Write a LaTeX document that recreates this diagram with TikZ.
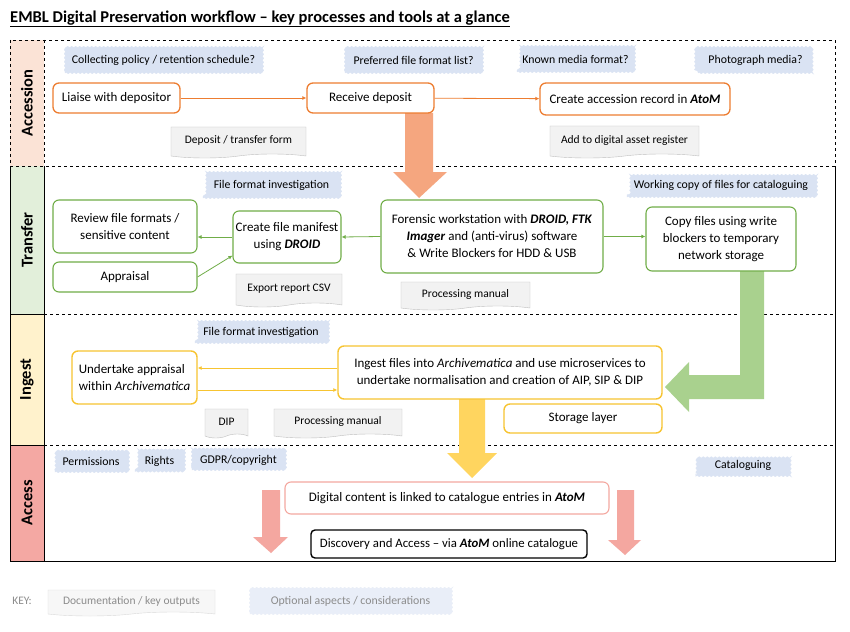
\documentclass[tikz,border=0pt]{standalone}
\usepackage{fontspec}
\setmainfont{Carlito}
\usetikzlibrary{positioning,shapes.symbols,decorations.pathmorphing,calc,arrows.meta}
\definecolor{accline}{HTML}{ED7D31}
\definecolor{trline}{HTML}{70AD47}
\definecolor{ingline}{HTML}{F7C431}
\definecolor{acline}{HTML}{F4A8A0}
\definecolor{optblue}{HTML}{DAE3F3}
\definecolor{docfill}{HTML}{F2F2F2}
\definecolor{docline}{HTML}{BFBFBF}
\definecolor{accfill}{HTML}{FBE3D6}
\definecolor{trfill}{HTML}{E2EFDA}
\definecolor{ingfill}{HTML}{FFF2CC}
\definecolor{acfill}{HTML}{F4A8A3}
\definecolor{arrorange}{HTML}{F5A67F}
\definecolor{arrgreen}{HTML}{A9D18E}
\definecolor{arryellow}{HTML}{FFD55F}
\definecolor{arrsalmon}{HTML}{F4A7A0}
\definecolor{keygrey}{HTML}{8C8C8C}

\begin{document}
\begin{tikzpicture}[x=1pt,y=-1pt]
        \tikzstyle{proc} = [draw,rounded corners=6pt,fill=white,line width=1.3pt,align=center,inner sep=2pt,font=\fontsize{13}{17}\selectfont]
        \tikzstyle{opt} = [fill=optblue,draw=optblue,decorate,decoration={snake,amplitude=0.7pt,segment length=4pt},inner sep=2pt,font=\fontsize{11.8}{14}\selectfont]
        \tikzstyle{doc} = [tape,tape bend top=none,tape bend height=4pt,draw=docline,fill=docfill,inner sep=2pt,font=\fontsize{11.5}{14}\selectfont]
        \tikzstyle{flow} = [-{Latex[length=4pt,width=4pt]},line width=0.8pt]
        \tikzstyle{lane} = [rotate=90,font=\bfseries\fontsize{16.5}{18}\selectfont]
        \useasboundingbox[fill=white] (0,0) rectangle (850,631);
        \node [anchor=west,font=\bfseries\fontsize{16.5}{18}\selectfont,inner sep=0pt] (title) at (10,19)
          {\underline{EMBL Digital Preservation workflow -- key processes and tools at a glance}};
        % lanes
        \fill[accfill] (10,40) rectangle (44,166);
        \fill[trfill] (10,166) rectangle (44,314);
        \fill[ingfill] (10,314) rectangle (44,445);
        \fill[acfill] (10,445) rectangle (44,561);
        \draw[dashed] (10,40) rectangle (835,166);
        \draw[dashed] (44,40) -- (44,166);
        \draw (10,166) -- (10,561) -- (835,561) -- (835,166);
        \draw (44,166) -- (44,561);
        \draw (10,314) -- (44,314);
        \draw (10,445) -- (44,445);
        \draw[dashed] (44,314) -- (835,314);
        \draw[dashed] (44,445) -- (835,445);
        \node [lane] (accession) at (27,103) {Accession};
        \node [lane] (transfer) at (27,240) {Transfer};
        \node [lane] (ingest) at (27,379.5) {Ingest};
        \node [lane] (access) at (27,503) {Access};
        % block arrows
        \fill[arrorange] (405,113) -- (433,113) -- (433,172) -- (447,172) -- (419,198) -- (393,172) -- (405,172) -- cycle;
        \fill[arrgreen] (740,271) -- (764,271) -- (764,399) -- (689,399) -- (689,412) -- (665,387) -- (689,362) -- (689,375) -- (740,375) -- cycle;
        \fill[arryellow] (459,399) -- (485,399) -- (485,453) -- (497,453) -- (472,478) -- (447,453) -- (459,453) -- cycle;
        \fill[arrsalmon] (262,490) -- (280,490) -- (280,537) -- (288,537) -- (271,553) -- (253,537) -- (262,537) -- cycle;
        \fill[arrsalmon] (617,490) -- (634,490) -- (634,540) -- (641,540) -- (625,555) -- (608,540) -- (617,540) -- cycle;
        % accession
        \node [opt, minimum width=197, minimum height=26] (policy) at (163.5,60) {Collecting policy / retention schedule?};
        \node [opt, minimum width=137, minimum height=26] (preferred) at (413.5,60) {Preferred file format list?};
        \node [opt, minimum width=117, minimum height=25] (knownmedia) at (575.5,59.5) {Known media format?};
        \node [opt, minimum width=115, minimum height=26] (photomedia) at (755.5,60) {Photograph media?};
        \node [proc, draw=accline, minimum width=127, minimum height=30] (liaise) at (116.5,98) {Liaise with depositor};
        \node [proc, draw=accline, minimum width=127, minimum height=30] (receive) at (370.5,98) {Receive deposit};
        \node [proc, draw=accline, minimum width=190, minimum height=32] (accrecord) at (635,99) {Create accession record in \textbf{\textit{AtoM}}};
        \node [doc, minimum width=135, minimum height=31] (depform) at (238.5,140.5) {Deposit / transfer form};
        \node [doc, minimum width=149, minimum height=32] (register) at (624.5,140) {Add to digital asset register};
        \draw[flow, accline] (liaise) -- (receive);
        \draw[flow, accline] (receive) -- (accrecord);
        % transfer
        \node [opt, minimum width=137, minimum height=25] (ffi) at (271.5,185.5) {File format investigation};
        \node [opt, minimum width=188, minimum height=23] (workcopy) at (721,185.5) {Working copy of files for cataloguing};
        \node [proc, draw=trline, line width=1.1pt, minimum width=144, minimum height=53] (review) at (125,226.5) {Review file formats /\\sensitive content};
        \node [proc, draw=trline, line width=1.1pt, minimum width=144, minimum height=30] (appraisal) at (125,277) {Appraisal};
        \node [proc, draw=trline, line width=1.1pt, minimum width=108, minimum height=52] (manifest) at (287,237) {Create file manifest\\using \textbf{\textit{DROID}}};
        \node [proc, draw=trline, line width=1.1pt, minimum width=222, minimum height=73] (forensic) at (492,236.5)
          {Forensic workstation with \textbf{\textit{DROID, FTK}}\\\textbf{\textit{Imager}} and (anti-virus) software\\\& Write Blockers for HDD \& USB};
        \node [proc, draw=trline, line width=1.1pt, minimum width=150, minimum height=64] (copyfiles) at (721,239) {Copy files using write\\blockers to temporary\\network storage};
        \node [doc, minimum width=106, minimum height=33] (csv) at (289,288.5) {Export report CSV};
        \node [doc, minimum width=129, minimum height=28] (manual) at (465.5,294) {Processing manual};
        \draw[flow, trline] (forensic.west) -- (manifest.east);
        \draw[flow, trline] (manifest.west) -- (manifest.west -| review.east);
        \draw[flow, trline] (appraisal.east) -- ($(manifest.south west)!0.15!(manifest.north west)$);
        \draw[flow, trline] (forensic.east) -- (forensic.east -| copyfiles.west);
        % ingest
        \node [opt, minimum width=132, minimum height=22] (ffitwo) at (261,332) {File format investigation};
        \node [proc, draw=ingline, line width=1.4pt, minimum width=125, minimum height=53, align=left] (appraise) at (134.5,377.5) {Undertake appraisal\\within \textit{Archivematica}};
        \node [proc, draw=ingline, line width=1.4pt, minimum width=324, minimum height=53] (ingestfiles) at (500,372.5)
          {Ingest files into \textit{Archivematica} and use microservices to\\undertake normalisation and creation of AIP, SIP \& DIP};
        \node [proc, draw=ingline, line width=1.4pt, minimum width=158, minimum height=29] (storage) at (583,418.5) {Storage layer};
        \node [doc, minimum width=43, minimum height=29] (dip) at (226.5,421.5) {DIP};
        \node [doc, minimum width=128, minimum height=29] (manualtwo) at (338,421.5) {Processing manual};
        \draw[flow, ingline] (ingestfiles.west |- 0,368) -- (appraise.east |- 0,368);
        \draw[flow, ingline] (appraise.east |- 0,390) -- (ingestfiles.west |- 0,390);
        % access
        \node [opt, minimum width=72, minimum height=21] (permissions) at (91,461.5) {Permissions};
        \node [opt, minimum width=49, minimum height=21] (rights) at (159.5,461) {Rights};
        \node [opt, minimum width=93, minimum height=20] (gdpr) at (238.5,460) {GDPR/copyright};
        \node [opt, minimum width=94, minimum height=21] (cataloguing) at (743,465.5) {Cataloguing};
        \node [proc, draw=acline, line width=1.1pt, minimum width=324, minimum height=32] (linked) at (447,498) {Digital content is linked to catalogue entries in \textbf{\textit{AtoM}}};
        \node [proc, draw=black, line width=1.4pt, rounded corners=4pt, minimum width=276, minimum height=28, font=\fontsize{12.8}{16}\selectfont] (discovery) at (449,544) {Discovery and Access -- via \textbf{\textit{AtoM}} online catalogue};
        % key
        \node [text=keygrey, font=\fontsize{11.5}{14}\selectfont] (key) at (22,601) {KEY:};
        \node [doc, draw=docline!60, fill=docfill!60, text=keygrey, minimum width=167, minimum height=26] (keydoc) at (131.5,601) {Documentation / key outputs};
        \node [opt, fill=optblue!60, draw=optblue!60, text=keygrey, minimum width=201, minimum height=26] (keyopt) at (350.5,601) {Optional aspects / considerations};
      \end{tikzpicture}
\end{document}
